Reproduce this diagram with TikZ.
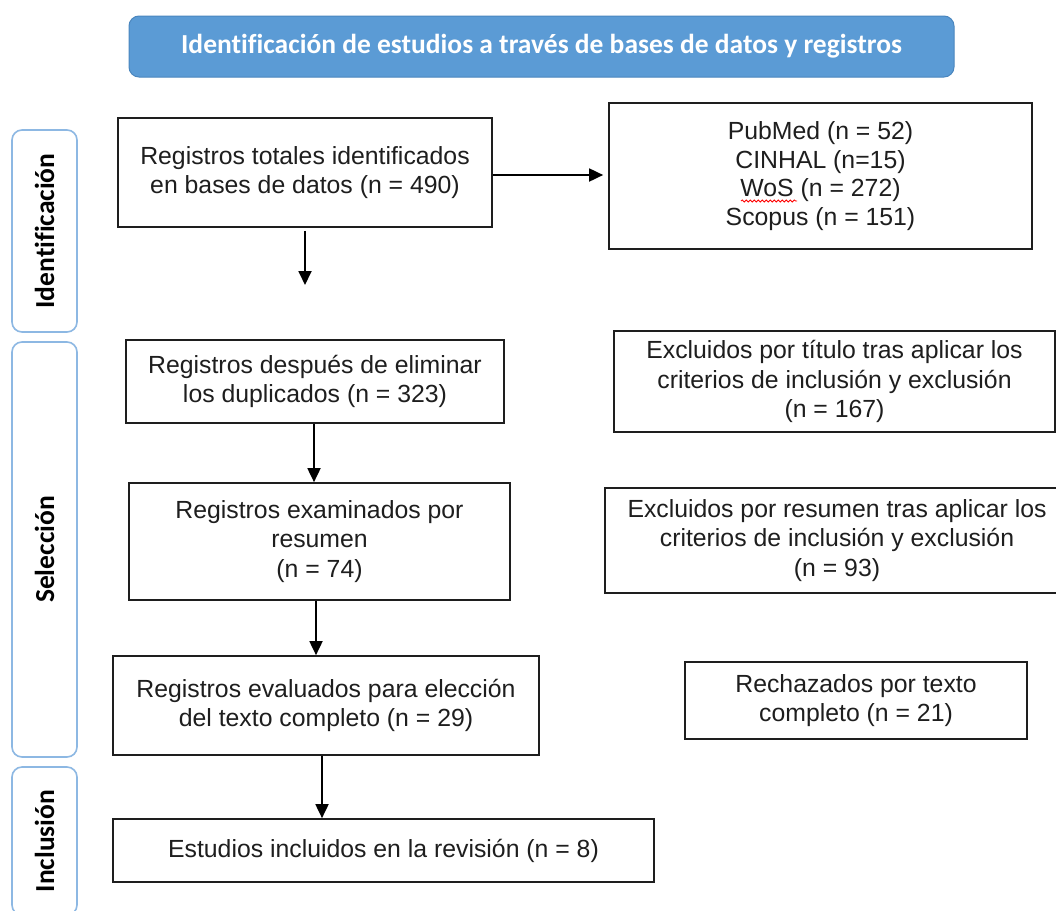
\documentclass[tikz,border=0pt]{standalone}
\usepackage{fontspec}
\setmainfont{Liberation Sans}
\newfontfamily\calfont{Carlito}[Ligatures=NoCommon]
\definecolor{prblue}{HTML}{5B9BD5}
\definecolor{prline}{HTML}{4A86BE}
\definecolor{prtag}{HTML}{8DB8E3}
\definecolor{prink}{HTML}{1E1E1E}
\usetikzlibrary{arrows.meta,decorations.pathmorphing}

\begin{document}
\begin{tikzpicture}[x=1pt,y=-1pt,
    box/.style={draw=prink,line width=1.7pt,inner sep=0pt,align=center,
      font=\fontsize{24.8}{29.5}\selectfont,text=prink},
    tag/.style={draw=prtag,line width=1.6pt,rounded corners=10pt,inner sep=0pt,
      font=\calfont\bfseries\fontsize{27.5}{30}\selectfont,text=black},
    arr/.style={-{Triangle[length=14pt,width=13pt]},line width=1.8pt,black}]
    \clip (0,0) rectangle (1056,910);
    \fill[white] (0,0) rectangle (1056,910);
    \node[fill=prblue,draw=prline,line width=1pt,rounded corners=10pt,
      minimum width=825pt,minimum height=61pt,text=white,
      font=\calfont\bfseries\fontsize{27.5}{30}\selectfont] (ban) at (541.5,46.5)
      {Identificación de estudios a través de bases de datos y registros};
    % fases
    \node[tag,minimum width=202pt,minimum height=65pt,rotate=90] (id) at (44.5,231) {Identificación};
    \node[tag,minimum width=415pt,minimum height=65pt,rotate=90] (sel) at (44.5,549.5) {Selección};
    \node[tag,minimum width=148pt,minimum height=65pt,rotate=90] (inc) at (44.5,841) {Inclusión};
    % cajas
    \node[box,minimum width=374pt,minimum height=109pt] (tot) at (305,172.5)
      {Registros totales identificados\\en bases de datos (n = 490)};
    \node[box,minimum width=423pt,minimum height=146pt,font=\fontsize{24.8}{28.5}\selectfont] (db) at (820.5,176)
      {PubMed (n = 52)\\CINHAL (n=15)\\WoS (n = 272)\\Scopus (n = 151)};
    \draw[red,line width=0.8pt,decorate,decoration={snake,amplitude=1.1pt,segment length=4pt}]
      (741,201) -- (797,201);
    \node[box,minimum width=378pt,minimum height=83pt] (dup) at (315,381.5)
      {Registros después de eliminar\\los duplicados (n = 323)};
    \node[box,minimum width=441pt,minimum height=101pt] (tit) at (834.5,381.5)
      {Excluidos por título tras aplicar los\\criterios de inclusión y exclusión\\(n = 167)};
    \node[box,minimum width=381pt,minimum height=117pt] (res) at (319.5,541.5)
      {Registros examinados por\\resumen\\(n = 74)};
    \node[box,minimum width=464pt,minimum height=105pt] (exr) at (837,540.5)
      {Excluidos por resumen tras aplicar los\\criterios de inclusión y exclusión\\(n = 93)};
    \node[box,minimum width=426pt,minimum height=99pt] (full) at (326,705.5)
      {Registros evaluados para elección\\del texto completo (n = 29)};
    \node[box,minimum width=342pt,minimum height=77pt] (rej) at (856,700.5)
      {Rechazados por texto\\completo (n = 21)};
    \node[box,minimum width=541pt,minimum height=63pt] (fin) at (383.5,850.5)
      {Estudios incluidos en la revisión (n = 8)};
    \coordinate (gap) at (305,285);
    \draw[arr,shorten <=3pt] (tot) -- (gap);
    \draw[arr,shorten >=5pt] ([yshift=-2.5pt]tot.east) -- ([yshift=-2.5pt]tot.east -| db.west);
    \draw[arr] ([xshift=-1pt]dup.south) -- ([xshift=-1pt]dup.south |- res.north);
    \draw[arr] ([xshift=-3.5pt]res.south) -- ([xshift=-3.5pt]res.south |- full.north);
    \draw[arr] ([xshift=-4pt]full.south) -- ([xshift=-4pt]full.south |- fin.north);
\end{tikzpicture}
\end{document}
